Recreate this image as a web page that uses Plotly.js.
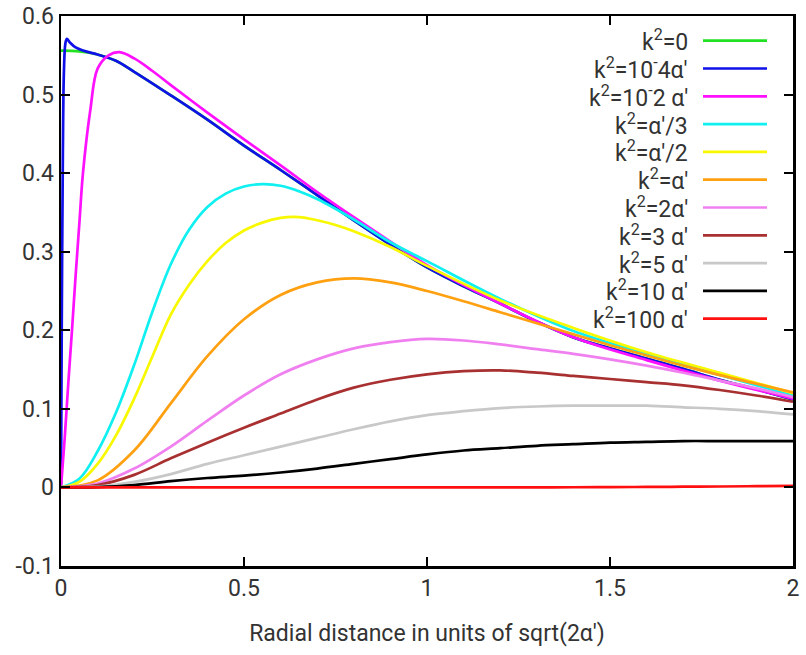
<!DOCTYPE html>
<html>
<head>
<meta charset="utf-8">
<script src="https://cdn.plot.ly/plotly-3.0.1.min.js"></script>
<style>html,body{margin:0;padding:0;background:#fff;}#chart{width:806px;height:655px;}</style>
</head>
<body>
<div id="chart"></div>
<script>
// ---- data ----
var xStd = [0,0.1,0.2,0.3,0.4,0.5,0.6,0.7,0.8,0.9,1.0,1.1,1.2,1.3,1.4,1.5,1.6,1.7,1.8,1.9,2.0];

var xK0 = [0,0.05,0.1,0.15,0.2,0.3,0.4,0.5,0.6,0.7,0.8,0.9,1.0,1.1,1.2,1.3,1.4,1.5,1.6,1.7,1.8,1.9,2.0];
var yK0 = [0.556,0.555,0.551,0.543,0.529,0.499,0.468,0.435,0.404,0.372,0.340,0.309,0.280,0.256,0.234,0.211,0.191,0.177,0.164,0.151,0.137,0.125,0.112];

var xK1e4 = [0,0.002,0.005,0.008,0.012,0.016,0.025,0.04,0.06,0.1,0.15,0.2,0.3,0.4,0.5,0.6,0.7,0.8,0.9,1.0,1.1,1.2,1.3,1.4,1.5,1.6,1.7,1.8,1.9,2.0];
var yK1e4 = [0,0.2,0.42,0.53,0.565,0.571,0.566,0.560,0.556,0.551,0.543,0.529,0.499,0.468,0.435,0.404,0.372,0.340,0.309,0.280,0.256,0.234,0.211,0.191,0.177,0.164,0.151,0.137,0.125,0.112];

var xK1e2 = [0,0.01,0.02,0.03,0.04,0.05,0.06,0.08,0.1,0.13,0.16,0.2,0.25,0.3,0.4,0.5,0.6,0.7,0.8,0.9,1.0,1.2,1.4,1.6,1.8,2.0];
var yK1e2 = [0,0.062,0.133,0.20,0.27,0.335,0.40,0.48,0.533,0.550,0.554,0.546,0.530,0.512,0.477,0.443,0.410,0.376,0.344,0.313,0.283,0.234,0.191,0.162,0.136,0.113];

var xKthird = [0,0.05,0.1,0.15,0.2,0.25,0.3,0.35,0.4,0.45,0.5,0.55,0.6,0.65,0.7,0.8,0.9,1.0,1.2,1.4,1.6,1.8,2.0];
var yKthird = [0,0.011,0.046,0.095,0.156,0.224,0.284,0.328,0.357,0.374,0.383,0.386,0.384,0.377,0.367,0.341,0.312,0.288,0.240,0.199,0.170,0.143,0.117];

var xKhalf = [0,0.05,0.1,0.15,0.2,0.25,0.3,0.35,0.4,0.45,0.5,0.55,0.6,0.65,0.7,0.75,0.8,0.9,1.0,1.2,1.4,1.6,1.8,2.0];
var yKhalf = [0,0.007,0.030,0.066,0.113,0.167,0.220,0.258,0.288,0.311,0.327,0.337,0.343,0.344,0.340,0.334,0.326,0.306,0.282,0.238,0.203,0.172,0.146,0.120];

var yK1 = [0,0.009,0.047,0.107,0.167,0.214,0.245,0.261,0.266,0.261,0.250,0.237,0.223,0.209,0.195,0.181,0.168,0.155,0.143,0.132,0.121];
var yK2 = [0,0.005,0.024,0.052,0.085,0.117,0.144,0.163,0.177,0.185,0.189,0.187,0.182,0.176,0.170,0.163,0.155,0.146,0.136,0.126,0.115];
var yK3 = [0,0.003,0.016,0.037,0.057,0.076,0.094,0.112,0.127,0.137,0.144,0.148,0.149,0.146,0.142,0.138,0.134,0.130,0.124,0.117,0.109];
var yK5 = [0,0.001,0.007,0.017,0.030,0.041,0.052,0.063,0.074,0.084,0.092,0.097,0.101,0.103,0.104,0.104,0.104,0.102,0.100,0.097,0.093];
var yK10 = [0,0.0005,0.003,0.008,0.012,0.015,0.019,0.024,0.030,0.036,0.042,0.047,0.050,0.053,0.055,0.057,0.058,0.059,0.059,0.059,0.059];
var yK100 = [0,0,0,0,0,0,0,0,0,0,0,0,0,0.0001,0.0002,0.0004,0.0006,0.0009,0.0012,0.0016,0.002];

var labels = ["k<sup>2</sup>=0","k<sup>2</sup>=10<sup>-</sup>4α'","k<sup>2</sup>=10<sup>-</sup>2 α'","k<sup>2</sup>=α'/3","k<sup>2</sup>=α'/2","k<sup>2</sup>=α'","k<sup>2</sup>=2α'","k<sup>2</sup>=3 α'","k<sup>2</sup>=5 α'","k<sup>2</sup>=10 α'","k<sup>2</sup>=100 α'"];
var colors = ["#22e022","#1010e8","#ff10ff","#10f0f0","#f8f800","#ffa010","#f080f0","#a83030","#c8c8c8","#000000","#ff1010"];

var xTicks = [0,0.5,1,1.5,2];
var xTickText = ["0","0.5","1","1.5","2"];
var yTicks = [-0.1,0,0.1,0.2,0.3,0.4,0.5,0.6];
var yTickText = ["-0.1","0","0.1","0.2","0.3","0.4","0.5","0.6"];

var xTitle = "Radial distance in units of sqrt(2α')";

// ---- build ----
var xs = [xK0, xK1e4, xK1e2, xKthird, xKhalf, xStd, xStd, xStd, xStd, xStd, xStd];
var ys = [yK0, yK1e4, yK1e2, yKthird, yKhalf, yK1, yK2, yK3, yK5, yK10, yK100];

var FONT = 'Roboto, sans-serif';
var traces = [];
for (var i = 0; i < ys.length; i++) {
  traces.push({
    x: xs[i], y: ys[i], type: 'scatter', mode: 'lines',
    name: labels[i], showlegend: false,
    line: {color: colors[i], width: 2.7, shape: 'spline', smoothing: 1},
    hoverinfo: 'skip'
  });
}

var L = 61, R = 793, T = 16, B = 566;
var W = R - L, H = B - T;
function px2paperX(p){ return (p - L) / W; }
function px2paperY(p){ return (B - p) / H; }

var annotations = [];
var shapes = [];
for (var j = 0; j < labels.length; j++) {
  var yp = 40.7 + 27.8 * j;
  annotations.push({
    xref: 'paper', yref: 'paper', x: px2paperX(690), y: px2paperY(yp),
    xanchor: 'right', yanchor: 'middle', text: labels[j], showarrow: false,
    font: {family: FONT, size: 23, color: '#333'}
  });
  shapes.push({
    type: 'line', xref: 'paper', yref: 'paper',
    x0: px2paperX(703), x1: px2paperX(767), y0: px2paperY(yp), y1: px2paperY(yp),
    line: {color: colors[j], width: 2.7}
  });
}

var layout = {
  width: 806, height: 655,
  margin: {l: L, r: 806 - R, t: T, b: 655 - B, pad: 0},
  paper_bgcolor: '#fff', plot_bgcolor: '#fff',
  font: {family: FONT, size: 23, color: '#333'},
  xaxis: {
    range: [0, 2], tickvals: xTicks, ticktext: xTickText,
    ticks: 'inside', ticklen: 9, tickwidth: 2, tickcolor: '#000',
    showline: true, linecolor: '#000', linewidth: 2.5, mirror: 'ticks',
    showgrid: false, zeroline: false,
    tickfont: {family: FONT, size: 23, color: '#333'},
    title: {text: xTitle, standoff: 24, font: {family: FONT, size: 23, color: '#333'}},
    automargin: false
  },
  yaxis: {
    range: [-0.1, 0.6], tickvals: yTicks, ticktext: yTickText,
    ticks: 'inside', ticklen: 9, tickwidth: 2, tickcolor: '#000',
    showline: true, linecolor: '#000', linewidth: 2.5, mirror: 'ticks',
    showgrid: false, zeroline: false,
    tickfont: {family: FONT, size: 23, color: '#333'},
    automargin: false
  },
  annotations: annotations,
  shapes: shapes,
  showlegend: false
};

Plotly.newPlot('chart', traces, layout, {staticPlot: true, displayModeBar: false});
</script>
</body>
</html>
